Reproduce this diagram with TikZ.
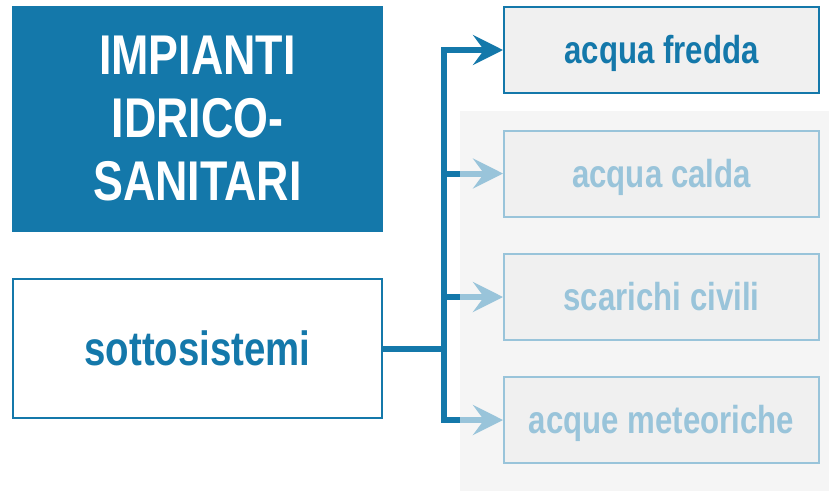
\documentclass[tikz,border=0pt]{standalone}
\usepackage{fontspec}
\newfontfamily\narrowfont[FakeStretch=0.8]{Liberation Sans}
\usepackage{tikz}
\usetikzlibrary{positioning,arrows.meta}

\definecolor{scuro}{HTML}{1478AA}
\definecolor{chiaro}{HTML}{99C4DA}
\definecolor{fondo}{HTML}{F0F0F0}
\definecolor{pannello}{HTML}{F5F5F5}

\tikzset{
  voce/.style={draw=#1, line width=2pt, fill=fondo, minimum width=315pt, minimum height=86pt,
    inner sep=0pt, text=#1, text depth=0.25ex, font=\narrowfont\bfseries\fontsize{39}{44}\selectfont},
  ramo/.style={draw=#1, line width=6pt, -{Stealth[length=30pt, width=30pt, inset=11pt]}},
}

\begin{document}
\begin{tikzpicture}[x=1pt, y=-1pt]
				\useasboundingbox (0,0) rectangle (829,491);
				% Pannello sfumato dietro le voci spente
				\fill[pannello] (460,111) rectangle (829,491);
				
				% Titolo e blocco di partenza
				\node[fill=scuro, minimum width=371pt, minimum height=226pt, inner sep=0pt, text=white, align=center,
				  font=\narrowfont\bfseries\fontsize{56}{63}\selectfont] (titolo) at (197.5,119) {IMPIANTI\\IDRICO-\\SANITARI};
				\node[draw=scuro, line width=2pt, fill=white, minimum width=369pt, minimum height=139pt, inner sep=0pt, text=scuro,
				  text depth=0.25ex, font=\narrowfont\bfseries\fontsize{48}{52}\selectfont] (sotto) at (197.5,348.5) {sottosistemi};
				
				% Sottosistemi
				\node[voce=scuro] (fredda) at (661.5,50) {acqua fredda};
				\node[voce=chiaro] (calda) at (661.5,173.5) {acqua calda};
				\node[voce=chiaro] (scarichi) at (661.5,297) {scarichi civili};
				\node[voce=chiaro] (meteo) at (661.5,420) {acque meteoriche};
				
				% Collegamenti
				\coordinate (nodo) at (443.5,348.5);
				\coordinate (c1) at (460,173.5);
				\coordinate (c2) at (460,297);
				\coordinate (c3) at (460,420);
				\draw[scuro, line width=6pt] (sotto.east) -- (nodo);
				\draw[ramo=scuro] (nodo) |- (fredda.west);
				\draw[scuro, line width=6pt] (nodo) |- (c1);
				\draw[scuro, line width=6pt] (nodo) |- (c3);
				\draw[scuro, line width=6pt] (nodo) |- (c2);
				\draw[ramo=chiaro] (c1) -- (calda.west);
				\draw[ramo=chiaro] (c2) -- (scarichi.west);
				\draw[ramo=chiaro] (c3) -- (meteo.west);
			\end{tikzpicture}
\end{document}
